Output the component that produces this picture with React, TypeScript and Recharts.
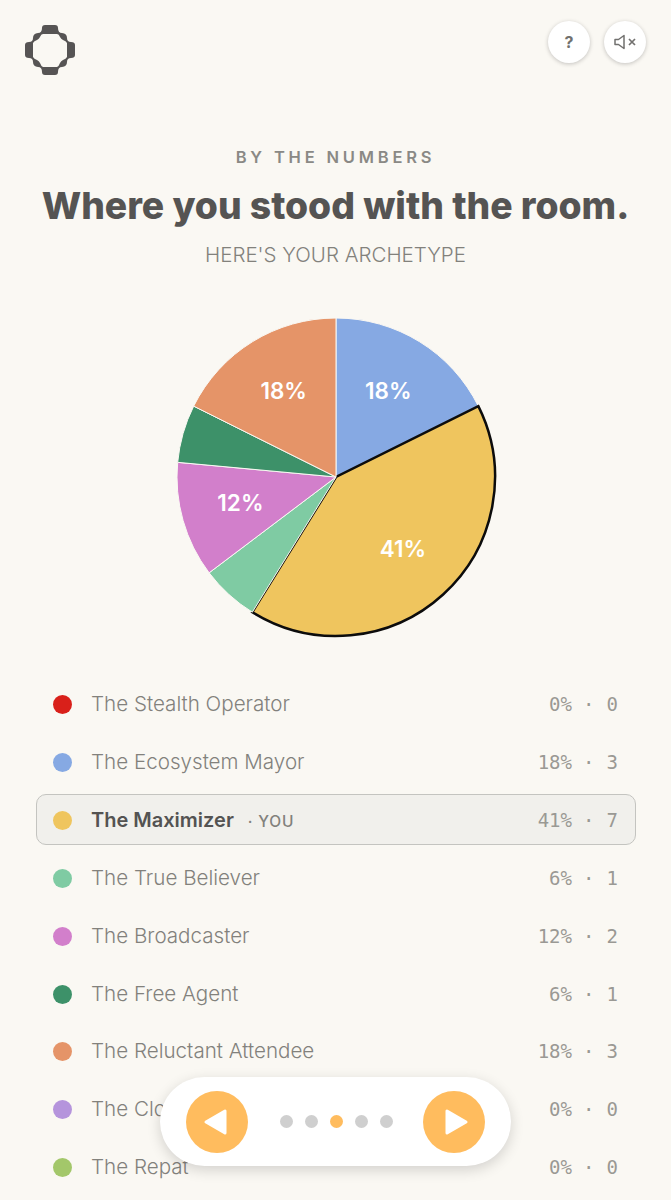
import { Pie, PieChart, Cell } from "recharts"

const names = [
  "The Stealth Operator",
  "The Ecosystem Mayor",
  "The Maximizer",
  "The True Believer",
  "The Broadcaster",
  "The Free Agent",
  "The Reluctant Attendee",
  "The Clo",
  "The Repat",
]
const counts = [0, 3, 7, 1, 2, 1, 3, 0, 0]
const percents = [0, 18, 41, 6, 12, 6, 18, 0, 0]
const colors = ["#d9201a", "#86a9e3", "#efc55e", "#7fcba3", "#d27fcb", "#3d9169", "#e59468", "#b594dc", "#a3c76a"]
const youIndex = 2

const pieData = names
  .map((name, i) => ({ name, value: counts[i], percent: percents[i], color: colors[i], you: i === youIndex }))
  .filter((d) => d.value > 0)

const sans = "Inter, sans-serif"
const mono = "'DejaVu Sans Mono', monospace"
const RAD = Math.PI / 180

function sliceLabel(props: any) {
  const { cx, cy, midAngle, outerRadius, payload } = props
  const shown = payload?.percent ?? props.percent
  if (shown < 10) return null
  const r = outerRadius * 0.625
  const x = cx + r * Math.cos(-midAngle * RAD)
  const y = cy + r * Math.sin(-midAngle * RAD) - 2
  return (
    <text x={x} y={y} fill="#fff" textAnchor="middle" dominantBaseline="central" fontFamily={sans} fontSize={22.5} fontWeight={600}>
      {shown}%
    </text>
  )
}

function Logo() {
  return (
    <svg width={52} height={52} viewBox="0 0 52 52" style={{ position: "absolute", left: 24, top: 24 }}>
      <path
        fillRule="evenodd"
        fill="#565454"
        d="M18 4 Q18 1 21 1 L31 1 Q34 1 34 4 Q34 9 38 9 Q43 9.5 43 14 Q43 18 47 18 Q51 18 51 21 L51 31 Q51 34 47 34 Q43 34 43 38 Q43 42.5 38 43 Q34 43 34 48 Q34 51 31 51 L21 51 Q18 51 18 48 Q18 43 14 43 Q9 42.5 9 38 Q9 34 5 34 Q1 34 1 31 L1 21 Q1 18 5 18 Q9 18 9 14 Q9 9.5 14 9 Q18 9 18 4 Z M19 10 L33 10 Q35 10 36 13 Q37 15 39 16 Q42 17 43 19 L43 33 Q42 35 39 36 Q37 37 36 39 Q35 42 33 43 L19 43 Q17 42 16 39 Q15 37 13 36 Q10 35 9 33 L9 19 Q10 17 13 16 Q15 15 16 13 Q17 10 19 10 Z"
      />
    </svg>
  )
}

const roundBtn = {
  position: "absolute" as const,
  top: 21,
  width: 42,
  height: 42,
  borderRadius: "50%",
  background: "#fff",
  boxShadow: "0 1px 4px rgba(0,0,0,0.22)",
  display: "flex",
  alignItems: "center",
  justifyContent: "center",
}

function Row({ i }: { i: number }) {
  const you = i === youIndex
  const monoCell = {
    position: "absolute" as const,
    top: 0,
    height: 58,
    lineHeight: "58px",
    fontFamily: mono,
    fontSize: 19,
    color: "#9a9994",
    whiteSpace: "pre" as const,
  }
  return (
    <div style={{ position: "absolute", left: 0, top: 675 + i * 57.9, width: 671, height: 58 }}>
      {you && (
        <div
          style={{
            position: "absolute",
            left: 36,
            top: 3,
            width: 598,
            height: 49,
            background: "#f1f0ec",
            border: "1.5px solid #c4c4c0",
            borderRadius: 10,
          }}
        />
      )}
      <div style={{ position: "absolute", left: 53, top: 20, width: 19, height: 19, borderRadius: "50%", background: colors[i] }} />
      <div
        style={{
          position: "absolute",
          left: 91,
          top: 0,
          height: 58,
          lineHeight: "58px",
          fontFamily: sans,
          fontSize: you ? 20 : 20.6,
          fontWeight: you ? 600 : 300,
          color: you ? "#545352" : "#82817c",
          whiteSpace: "nowrap",
        }}
      >
        {names[i]}
        {you && (
          <span style={{ fontSize: 15.5, fontWeight: 500, color: "#82817c", marginLeft: 14, letterSpacing: 0.8 }}>· YOU</span>
        )}
      </div>
      <div style={{ ...monoCell, right: 99 }}>{percents[i]}%</div>
      <div style={{ ...monoCell, left: 583 }}>·</div>
      <div style={{ ...monoCell, right: 53 }}>{counts[i]}</div>
    </div>
  )
}

function Pager() {
  const dots = [0, 1, 2, 3, 4]
  return (
    <div
      style={{
        position: "absolute",
        left: 160,
        top: 1077,
        width: 351,
        height: 89,
        borderRadius: 45,
        background: "#fff",
        boxShadow: "0 4px 14px rgba(0,0,0,0.16)",
      }}
    >
      <svg width={62} height={62} style={{ position: "absolute", left: 26, top: 14 }}>
        <circle cx={31} cy={31} r={31} fill="#ffbc5e" />
        <path d="M39 20 L39 42 L20 31 Z" fill="#fff" stroke="#fff" strokeWidth={3} strokeLinejoin="round" />
      </svg>
      <svg width={62} height={62} style={{ position: "absolute", left: 263, top: 14 }}>
        <circle cx={31} cy={31} r={31} fill="#ffbc5e" />
        <path d="M24 20 L24 42 L43 31 Z" fill="#fff" stroke="#fff" strokeWidth={3} strokeLinejoin="round" />
      </svg>
      {dots.map((d) => (
        <div
          key={d}
          style={{
            position: "absolute",
            left: 119.5 + d * 25,
            top: 38,
            width: 13,
            height: 13,
            borderRadius: "50%",
            background: d === 2 ? "#ffbc5e" : "#cfcfcf",
          }}
        />
      ))}
    </div>
  )
}

export default function App() {
  return (
    <div style={{ position: "absolute", left: 0, top: 0, width: 671, height: 1200, overflow: "hidden", background: "#faf8f3" }}>
      <Logo />
      <div style={{ ...roundBtn, left: 548 }}>
        <span style={{ fontFamily: sans, fontSize: 16, fontWeight: 700, color: "#72716f" }}>?</span>
      </div>
      <div style={{ ...roundBtn, left: 604 }}>
        <svg width={24} height={18} viewBox="0 0 24 18">
          <path d="M2 6.5 L5.5 6.5 L11 2.5 L11 15.5 L5.5 11.5 L2 11.5 Z" fill="none" stroke="#72716f" strokeWidth={1.5} strokeLinejoin="round" />
          <path d="M16 6 L22 12 M22 6 L16 12" stroke="#72716f" strokeWidth={1.7} />
        </svg>
      </div>

      <div style={{ position: "absolute", left: 0, width: 671, top: 147, textAlign: "center", fontFamily: sans, fontSize: 16.5, fontWeight: 600, letterSpacing: 3.8, color: "#8a8985" }}>
        BY THE NUMBERS
      </div>
      <div style={{ position: "absolute", left: 0, width: 671, top: 183, textAlign: "center", fontFamily: sans, fontSize: 37.3, fontWeight: 800, color: "#555453", whiteSpace: "nowrap" }}>
        Where you stood with the room.
      </div>
      <div style={{ position: "absolute", left: 0, width: 671, top: 242, textAlign: "center", fontFamily: sans, fontSize: 20.5, fontWeight: 300, color: "#82817c" }}>
        HERE'S YOUR ARCHETYPE
      </div>

      <div style={{ position: "absolute", left: 136, top: 277 }}>
        <PieChart width={400} height={400} margin={{ top: 0, right: 0, bottom: 0, left: 0 }}>
          <Pie
            data={pieData}
            dataKey="value"
            nameKey="name"
            cx={200}
            cy={200}
            outerRadius={159}
            startAngle={90}
            endAngle={-270}
            label={sliceLabel}
            labelLine={false}
            isAnimationActive={false}
          >
            {pieData.map((d) => (
              <Cell key={d.name} fill={d.color} stroke={d.you ? "#0c0c0c" : "#faf8f3"} strokeWidth={d.you ? 2.5 : 1} />
            ))}
          </Pie>
        </PieChart>
      </div>

      {names.map((_, i) => (
        <Row key={i} i={i} />
      ))}
      <Pager />
    </div>
  )
}
